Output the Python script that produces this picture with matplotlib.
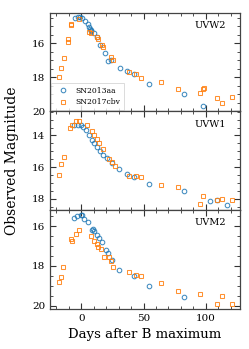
import matplotlib
matplotlib.use("Agg")
import matplotlib.pyplot as plt
from matplotlib.ticker import MultipleLocator

plt.rcParams['font.family'] = ['DejaVu Serif']
plt.rcParams['mathtext.fontset'] = 'dejavuserif'

bands = ["UVW2", "UVW1", "UVM2"]
names = ["SN2013aa", "SN2017cbv"]

# SN2013aa (blue circles)
aa_days = {
    "UVW2": [-5.0, -2.6, -1.0, 0.8, 3.0, 5.4, 6.4, 7.0, 7.5, 8.0, 10.2, 12.4, 15.2, 18.8, 21.7, 23.6, 31.1, 36.4, 42.3, 54.6, 82.7, 97.9],
    "UVW1": [-5.9, -2.9, -0.5, 1.6, 3.8, 6.0, 8.3, 10.5, 12.5, 15.0, 17.5, 20.4, 24.4, 30.5, 36.4, 42.3, 54.6, 82.7, 103.3, 109.2, 116.7],
    "UVM2": [-5.6, -3.5, -0.2, 0.3, 2.4, 5.1, 8.3, 9.6, 10.4, 12.4, 14.5, 16.4, 19.8, 21.7, 24.4, 30.3, 42.3, 54.6, 82.7],
}
aa_mags = {
    "UVW2": [14.54, 14.48, 14.45, 14.54, 14.68, 14.87, 15.03, 15.18, 15.25, 15.3, 15.42, 15.65, 16.10, 16.55, 17.07, 16.98, 17.46, 17.66, 17.80, 18.38, 18.98, 19.70],
    "UVW1": [13.37, 13.33, 13.37, 13.47, 13.64, 13.95, 14.27, 14.50, 14.70, 15.00, 15.20, 15.42, 15.74, 16.11, 16.43, 16.64, 17.06, 17.52, 18.10, 18.04, 18.40],
    "UVM2": [15.58, 15.50, 15.41, 15.45, 15.63, 15.78, 16.17, 16.13, 16.22, 16.42, 16.60, 16.79, 17.18, 17.35, 17.69, 18.23, 18.50, 19.04, 19.57],
}

# SN2017cbv (orange squares)
cbv_days = {
    "UVW2": [-17.9, -16.5, -14.1, -10.7, -10.7, -8.3, -7.8, -1.6, 5.9, 8.0, 12.4, 13.5, 16.4, 17.5, 23.8, 25.7, 38.5, 43.9, 47.9, 64.2, 77.9, 95.3, 97.9, 98.3, 109.2, 113.2, 120.7],
    "UVW1": [-17.9, -16.3, -13.9, -9.1, -7.7, -4.5, -1.6, 4.3, 8.3, 10.0, 12.4, 14.5, 17.2, 22.5, 24.7, 27.0, 38.3, 43.9, 47.9, 64.2, 77.9, 95.3, 97.9, 109.2, 113.2, 120.7],
    "UVM2": [-17.9, -16.3, -14.4, -8.3, -7.7, -4.3, -1.8, 7.8, 10.2, 12.4, 13.2, 15.8, 18.2, 22.5, 23.8, 25.7, 38.5, 43.9, 47.9, 64.2, 77.9, 95.3, 109.2, 113.2, 120.7],
}
cbv_mags = {
    "UVW2": [18.00, 17.43, 16.84, 15.75, 15.92, 14.92, 14.88, 14.60, 15.32, 15.40, 15.65, 15.75, 16.10, 16.20, 16.82, 16.98, 17.70, 17.80, 18.03, 18.30, 18.69, 18.92, 18.69, 18.64, 19.22, 19.50, 19.16],
    "UVW1": [16.47, 15.78, 15.36, 13.53, 13.37, 13.08, 13.08, 13.33, 13.75, 14.00, 14.23, 14.50, 14.84, 15.48, 15.64, 15.90, 16.53, 16.58, 16.60, 17.14, 17.27, 18.30, 17.84, 18.04, 17.98, 18.04],
    "UVM2": [18.82, 18.58, 18.08, 16.62, 16.76, 16.38, 16.20, 16.50, 16.76, 16.89, 17.06, 17.14, 17.55, 17.55, 17.77, 18.03, 18.33, 18.45, 18.53, 18.87, 19.29, 19.42, 19.91, 19.51, 19.93],
}

ylims = {"UVW2": (20.0, 14.2), "UVW1": (18.7, 12.48), "UVM2": (20.17, 15.18)}
xlim = (-25, 127)

fig = plt.figure(figsize=(2.49, 3.49), dpi=100)
gs = fig.add_gridspec(3, 1, left=0.201, right=0.962, top=0.964, bottom=0.115, hspace=0)
axes = [fig.add_subplot(gs[i]) for i in range(3)]
for i in range(1, 3):
    axes[i].sharex(axes[0])

blue = "#1f77b4"
orange = "#ff7f0e"
for ax, band in zip(axes, bands):
    ax.plot(aa_days[band], aa_mags[band], 'o', ms=3.3, mfc='none', mec=blue, mew=0.75, alpha=0.85, label=names[0])
    ax.plot(cbv_days[band], cbv_mags[band], 's', ms=3.3, mfc='none', mec=orange, mew=0.75, alpha=0.85, label=names[1])
    ax.set_ylim(*ylims[band])
    ax.set_xlim(*xlim)
    ax.yaxis.set_major_locator(MultipleLocator(2))
    ax.yaxis.set_minor_locator(MultipleLocator(0.5))
    ax.xaxis.set_major_locator(MultipleLocator(50))
    ax.xaxis.set_minor_locator(MultipleLocator(10))
    ax.tick_params(which='both', direction='in', top=True, right=True, labelsize=7.5, colors='#333333', labelcolor='black')
    ax.tick_params(which='major', length=4, width=0.8)
    ax.tick_params(which='minor', length=2, width=0.6)
    for s in ax.spines.values():
        s.set_color('#444444')
        s.set_linewidth(0.9)
    ax.text(0.93, 0.87, band, transform=ax.transAxes, ha='right', va='center', fontsize=7)
    if ax is not axes[-1]:
        ax.tick_params(labelbottom=False)

leg = axes[0].legend(loc='lower left', fontsize=5.5, frameon=True, borderpad=0.5, handletextpad=0.7, labelspacing=0.5,
                     borderaxespad=0.15, fancybox=False, edgecolor='#cccccc')
leg.get_frame().set_linewidth(0.6)

axes[2].set_xlabel("Days after B maximum", fontsize=9.5)
fig.text(0.05, 0.54, "Observed Magnitude", rotation=90, ha='center', va='center', fontsize=10)

fig.savefig("out.png", dpi=100)
